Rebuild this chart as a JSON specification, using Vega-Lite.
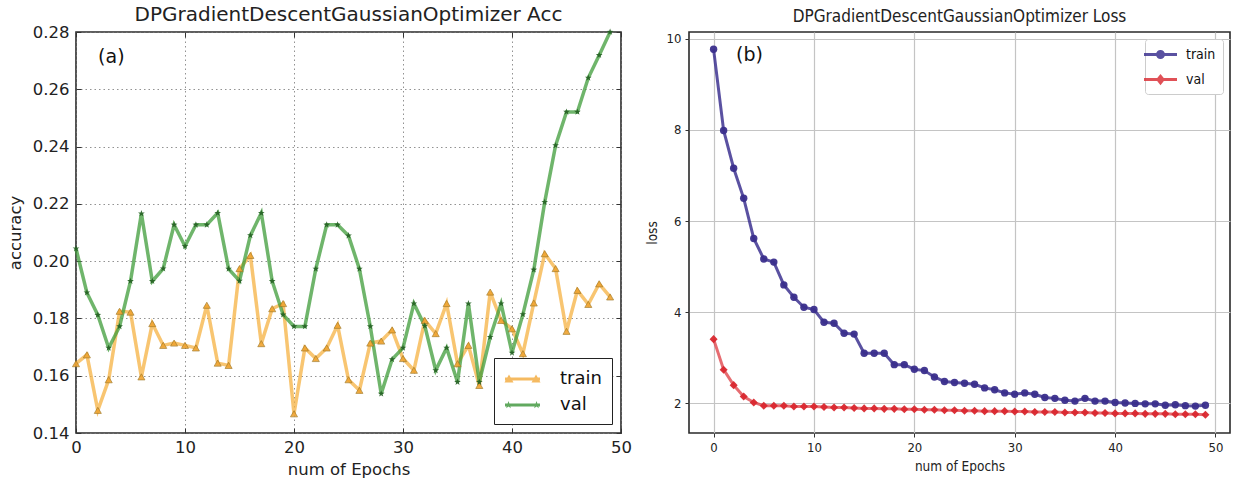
{
  "$schema": "https://vega.github.io/schema/vega-lite/v6.json",
  "padding": {"left": 6, "top": 4, "right": 0, "bottom": 0},
  "background": "white",
  "spacing": 11,
  "resolve": {"scale": {"color": "independent", "shape": "independent"}, "legend": {"color": "independent", "shape": "independent"}},
  "config": {
    "view": {"stroke": "#2a2a2a", "strokeWidth": 1.6},
    "axis": {"domain": false, "labelFlush": false, "labelOverlap": false}
  },
  "datasets": {
    "acc": [
      {"epoch":0,"series":"train","value":0.1642},{"epoch":1,"series":"train","value":0.1673},{"epoch":2,"series":"train","value":0.1479},{"epoch":3,"series":"train","value":0.1586},{"epoch":4,"series":"train","value":0.1825},{"epoch":5,"series":"train","value":0.1822},{"epoch":6,"series":"train","value":0.1596},{"epoch":7,"series":"train","value":0.1782},{"epoch":8,"series":"train","value":0.1706},{"epoch":9,"series":"train","value":0.1714},
      {"epoch":10,"series":"train","value":0.1706},{"epoch":11,"series":"train","value":0.1697},{"epoch":12,"series":"train","value":0.1846},{"epoch":13,"series":"train","value":0.1644},{"epoch":14,"series":"train","value":0.1636},{"epoch":15,"series":"train","value":0.1974},{"epoch":16,"series":"train","value":0.202},{"epoch":17,"series":"train","value":0.1712},{"epoch":18,"series":"train","value":0.1834},{"epoch":19,"series":"train","value":0.1852},
      {"epoch":20,"series":"train","value":0.1467},{"epoch":21,"series":"train","value":0.1697},{"epoch":22,"series":"train","value":0.166},{"epoch":23,"series":"train","value":0.1697},{"epoch":24,"series":"train","value":0.1776},{"epoch":25,"series":"train","value":0.1586},{"epoch":26,"series":"train","value":0.1549},{"epoch":27,"series":"train","value":0.1714},{"epoch":28,"series":"train","value":0.1721},{"epoch":29,"series":"train","value":0.176},
      {"epoch":30,"series":"train","value":0.166},{"epoch":31,"series":"train","value":0.1619},{"epoch":32,"series":"train","value":0.1793},{"epoch":33,"series":"train","value":0.1747},{"epoch":34,"series":"train","value":0.1852},{"epoch":35,"series":"train","value":0.1642},{"epoch":36,"series":"train","value":0.1706},{"epoch":37,"series":"train","value":0.1566},{"epoch":38,"series":"train","value":0.1892},{"epoch":39,"series":"train","value":0.1793},
      {"epoch":40,"series":"train","value":0.1764},{"epoch":41,"series":"train","value":0.1677},{"epoch":42,"series":"train","value":0.1854},{"epoch":43,"series":"train","value":0.2026},{"epoch":44,"series":"train","value":0.1974},{"epoch":45,"series":"train","value":0.1755},{"epoch":46,"series":"train","value":0.1898},{"epoch":47,"series":"train","value":0.1849},{"epoch":48,"series":"train","value":0.1921},{"epoch":49,"series":"train","value":0.1875},
      {"epoch":0,"series":"val","value":0.2044},{"epoch":1,"series":"val","value":0.189},{"epoch":2,"series":"val","value":0.1812},{"epoch":3,"series":"val","value":0.1697},{"epoch":4,"series":"val","value":0.1772},{"epoch":5,"series":"val","value":0.193},{"epoch":6,"series":"val","value":0.2166},{"epoch":7,"series":"val","value":0.193},{"epoch":8,"series":"val","value":0.1974},{"epoch":9,"series":"val","value":0.2127},
      {"epoch":10,"series":"val","value":0.2052},{"epoch":11,"series":"val","value":0.2127},{"epoch":12,"series":"val","value":0.2127},{"epoch":13,"series":"val","value":0.2168},{"epoch":14,"series":"val","value":0.1973},{"epoch":15,"series":"val","value":0.1931},{"epoch":16,"series":"val","value":0.209},{"epoch":17,"series":"val","value":0.2168},{"epoch":18,"series":"val","value":0.193},{"epoch":19,"series":"val","value":0.1813},
      {"epoch":20,"series":"val","value":0.1772},{"epoch":21,"series":"val","value":0.1772},{"epoch":22,"series":"val","value":0.1973},{"epoch":23,"series":"val","value":0.2127},{"epoch":24,"series":"val","value":0.2127},{"epoch":25,"series":"val","value":0.2089},{"epoch":26,"series":"val","value":0.1973},{"epoch":27,"series":"val","value":0.1772},{"epoch":28,"series":"val","value":0.1537},{"epoch":29,"series":"val","value":0.1657},
      {"epoch":30,"series":"val","value":0.1697},{"epoch":31,"series":"val","value":0.1852},{"epoch":32,"series":"val","value":0.1774},{"epoch":33,"series":"val","value":0.1619},{"epoch":34,"series":"val","value":0.1697},{"epoch":35,"series":"val","value":0.1578},{"epoch":36,"series":"val","value":0.1852},{"epoch":37,"series":"val","value":0.1578},{"epoch":38,"series":"val","value":0.1735},{"epoch":39,"series":"val","value":0.1852},
      {"epoch":40,"series":"val","value":0.168},{"epoch":41,"series":"val","value":0.1814},{"epoch":42,"series":"val","value":0.197},{"epoch":43,"series":"val","value":0.2206},{"epoch":44,"series":"val","value":0.2404},{"epoch":45,"series":"val","value":0.2521},{"epoch":46,"series":"val","value":0.2521},{"epoch":47,"series":"val","value":0.264},{"epoch":48,"series":"val","value":0.2719},{"epoch":49,"series":"val","value":0.28}
    ],
    "loss": [
      {"epoch":0,"series":"train","value":9.77},{"epoch":1,"series":"train","value":7.99},{"epoch":2,"series":"train","value":7.16},{"epoch":3,"series":"train","value":6.5},{"epoch":4,"series":"train","value":5.62},{"epoch":5,"series":"train","value":5.17},{"epoch":6,"series":"train","value":5.1},{"epoch":7,"series":"train","value":4.6},{"epoch":8,"series":"train","value":4.33},{"epoch":9,"series":"train","value":4.11},
      {"epoch":10,"series":"train","value":4.06},{"epoch":11,"series":"train","value":3.78},{"epoch":12,"series":"train","value":3.76},{"epoch":13,"series":"train","value":3.54},{"epoch":14,"series":"train","value":3.52},{"epoch":15,"series":"train","value":3.1},{"epoch":16,"series":"train","value":3.1},{"epoch":17,"series":"train","value":3.1},{"epoch":18,"series":"train","value":2.85},{"epoch":19,"series":"train","value":2.85},
      {"epoch":20,"series":"train","value":2.75},{"epoch":21,"series":"train","value":2.72},{"epoch":22,"series":"train","value":2.58},{"epoch":23,"series":"train","value":2.48},{"epoch":24,"series":"train","value":2.46},{"epoch":25,"series":"train","value":2.44},{"epoch":26,"series":"train","value":2.42},{"epoch":27,"series":"train","value":2.34},{"epoch":28,"series":"train","value":2.3},{"epoch":29,"series":"train","value":2.23},
      {"epoch":30,"series":"train","value":2.2},{"epoch":31,"series":"train","value":2.23},{"epoch":32,"series":"train","value":2.2},{"epoch":33,"series":"train","value":2.13},{"epoch":34,"series":"train","value":2.11},{"epoch":35,"series":"train","value":2.07},{"epoch":36,"series":"train","value":2.05},{"epoch":37,"series":"train","value":2.11},{"epoch":38,"series":"train","value":2.05},{"epoch":39,"series":"train","value":2.05},
      {"epoch":40,"series":"train","value":2.02},{"epoch":41,"series":"train","value":2.01},{"epoch":42,"series":"train","value":2.0},{"epoch":43,"series":"train","value":1.99},{"epoch":44,"series":"train","value":1.99},{"epoch":45,"series":"train","value":1.96},{"epoch":46,"series":"train","value":1.97},{"epoch":47,"series":"train","value":1.95},{"epoch":48,"series":"train","value":1.94},{"epoch":49,"series":"train","value":1.96},
      {"epoch":0,"series":"val","value":3.41},{"epoch":1,"series":"val","value":2.74},{"epoch":2,"series":"val","value":2.4},{"epoch":3,"series":"val","value":2.15},{"epoch":4,"series":"val","value":2.02},{"epoch":5,"series":"val","value":1.95},{"epoch":6,"series":"val","value":1.95},{"epoch":7,"series":"val","value":1.95},{"epoch":8,"series":"val","value":1.93},{"epoch":9,"series":"val","value":1.93},
      {"epoch":10,"series":"val","value":1.93},{"epoch":11,"series":"val","value":1.92},{"epoch":12,"series":"val","value":1.91},{"epoch":13,"series":"val","value":1.91},{"epoch":14,"series":"val","value":1.9},{"epoch":15,"series":"val","value":1.89},{"epoch":16,"series":"val","value":1.89},{"epoch":17,"series":"val","value":1.88},{"epoch":18,"series":"val","value":1.88},{"epoch":19,"series":"val","value":1.87},
      {"epoch":20,"series":"val","value":1.87},{"epoch":21,"series":"val","value":1.86},{"epoch":22,"series":"val","value":1.86},{"epoch":23,"series":"val","value":1.85},{"epoch":24,"series":"val","value":1.85},{"epoch":25,"series":"val","value":1.84},{"epoch":26,"series":"val","value":1.84},{"epoch":27,"series":"val","value":1.83},{"epoch":28,"series":"val","value":1.83},{"epoch":29,"series":"val","value":1.83},
      {"epoch":30,"series":"val","value":1.82},{"epoch":31,"series":"val","value":1.82},{"epoch":32,"series":"val","value":1.81},{"epoch":33,"series":"val","value":1.81},{"epoch":34,"series":"val","value":1.81},{"epoch":35,"series":"val","value":1.8},{"epoch":36,"series":"val","value":1.8},{"epoch":37,"series":"val","value":1.8},{"epoch":38,"series":"val","value":1.79},{"epoch":39,"series":"val","value":1.79},
      {"epoch":40,"series":"val","value":1.78},{"epoch":41,"series":"val","value":1.78},{"epoch":42,"series":"val","value":1.78},{"epoch":43,"series":"val","value":1.77},{"epoch":44,"series":"val","value":1.77},{"epoch":45,"series":"val","value":1.77},{"epoch":46,"series":"val","value":1.76},{"epoch":47,"series":"val","value":1.76},{"epoch":48,"series":"val","value":1.76},{"epoch":49,"series":"val","value":1.75}
    ]
  },
  "hconcat": [
    {
      "width": 545,
      "height": 401,
      "title": {"text": "DPGradientDescentGaussianOptimizer Acc", "font": "DejaVu Sans", "fontSize": 20, "fontWeight": "normal", "color": "#222", "offset": -1},
      "data": {"name": "acc"},
      "resolve": {"axis": {"x": "independent", "y": "independent"}},
      "encoding": {
        "x": {"field": "epoch", "type": "quantitative", "scale": {"domain": [0, 50], "nice": false}, "axis": null},
        "y": {"field": "value", "type": "quantitative", "scale": {"domain": [0.14, 0.28], "nice": false, "zero": false}, "axis": null}
      },
      "layer": [
        {
          "transform": [{"filter": "datum.series === 'train'"}],
          "mark": {"type": "line", "strokeWidth": 3.5, "opacity": 0.75, "color": "#f5b142"},
          "encoding": {
            "x": {"field": "epoch", "type": "quantitative", "scale": {"domain": [0, 50], "nice": false},
              "axis": {"title": "num of Epochs", "values": [0, 10, 20, 30, 40, 50], "grid": true, "gridDash": [1.5, 3], "gridColor": "#777", "gridOpacity": 0.8,
                "tickSize": -5, "tickColor": "#333", "labelPadding": 11, "labelFont": "DejaVu Sans", "labelFontSize": 16.5, "labelColor": "#222",
                "titleFont": "DejaVu Sans", "titleFontSize": 16.5, "titleFontWeight": "normal", "titleColor": "#222", "titlePadding": 6}},
            "y": {"field": "value", "type": "quantitative", "scale": {"domain": [0.14, 0.28], "nice": false, "zero": false},
              "axis": {"title": "accuracy", "values": [0.14, 0.16, 0.18, 0.2, 0.22, 0.24, 0.26, 0.28], "format": ".2f", "grid": true, "gridDash": [1.5, 3], "gridColor": "#777", "gridOpacity": 0.8,
                "tickSize": -5, "tickColor": "#333", "labelPadding": 12, "labelFont": "DejaVu Sans", "labelFontSize": 16.5, "labelColor": "#222",
                "titleFont": "DejaVu Sans", "titleFontSize": 16.5, "titleFontWeight": "normal", "titleColor": "#222", "titlePadding": 9}}
          }
        },
        {
          "transform": [{"filter": "datum.series === 'val'"}],
          "mark": {"type": "line", "strokeWidth": 3.5, "opacity": 0.75, "color": "#3f9c3a"}
        },
        {
          "transform": [{"filter": "datum.series === 'train'"}],
          "mark": {"type": "point", "shape": "triangle-up", "filled": true, "size": 50, "color": "#f0a431", "stroke": "#9c7420", "strokeWidth": 0.7, "opacity": 0.9}
        },
        {
          "transform": [{"filter": "datum.series === 'val'"}],
          "mark": {"type": "point", "shape": "M0,-1L0.235,-0.324L0.951,-0.309L0.38,0.124L0.588,0.809L0,0.4L-0.588,0.809L-0.38,0.124L-0.951,-0.309L-0.235,-0.324Z", "filled": true, "size": 50, "color": "#245f22", "opacity": 0.9}
        },
        {
          "transform": [{"filter": "false"}],
          "mark": {"type": "point", "filled": true, "opacity": 0.8},
          "encoding": {
            "x": {"field": "epoch", "type": "quantitative", "scale": {"domain": [0, 50], "nice": false},
              "axis": {"orient": "top", "values": [0, 10, 20, 30, 40, 50], "labels": false, "title": null, "grid": false, "tickSize": -5, "tickColor": "#333"}},
            "y": {"field": "value", "type": "quantitative", "scale": {"domain": [0.14, 0.28], "nice": false, "zero": false},
              "axis": {"orient": "right", "values": [0.14, 0.16, 0.18, 0.2, 0.22, 0.24, 0.26, 0.28], "labels": false, "title": null, "grid": false, "tickSize": -5, "tickColor": "#333"}},
            "color": {"field": "series", "type": "nominal", "scale": {"domain": ["train", "val"], "range": ["#f2a93a", "#3a9437"]},
              "legend": {"title": null, "orient": "bottom-right", "offset": 9, "strokeColor": "#222", "fillColor": "#ffffff", "padding": 10, "cornerRadius": 0,
                "labelFont": "DejaVu Sans", "labelFontSize": 18, "labelColor": "#111", "symbolSize": 400, "symbolOffset": 7.5, "rowPadding": 6, "labelOffset": 26.5}},
            "shape": {"field": "series", "type": "nominal",
              "scale": {"domain": ["train", "val"], "range": [
                "M-1.75,-0.16H1.75V0.16H-1.75ZM-1.35,-0.45L-0.9,0.35L-1.8,0.35ZM1.35,-0.45L1.8,0.35L0.9,0.35Z",
                "M-1.75,-0.16H1.75V0.16H-1.75ZM-1.4,-0.4L-1.306,-0.13L-1.02,-0.124L-1.248,0.05L-1.165,0.324L-1.4,0.16L-1.635,0.324L-1.552,0.05L-1.78,-0.124L-1.494,-0.13ZM1.4,-0.4L1.494,-0.13L1.78,-0.124L1.552,0.05L1.635,0.324L1.4,0.16L1.165,0.324L1.248,0.05L1.02,-0.124L1.306,-0.13Z"
              ]},
              "legend": {"title": null, "orient": "bottom-right", "offset": 9, "strokeColor": "#222", "fillColor": "#ffffff", "padding": 10, "cornerRadius": 0,
                "labelFont": "DejaVu Sans", "labelFontSize": 18, "labelColor": "#111", "symbolSize": 400, "symbolOffset": 7.5, "rowPadding": 6, "labelOffset": 26.5}}
          }
        },
        {
          "transform": [{"filter": "datum.epoch === 0 && datum.series === 'train'"}],
          "mark": {"type": "text", "text": "(a)", "font": "DejaVu Sans", "fontSize": 19, "color": "#111", "align": "center", "baseline": "middle"},
          "encoding": {"x": {"datum": 3.24, "axis": null}, "y": {"datum": 0.2712, "axis": null}}
        }
      ]
    },
    {
      "width": 541,
      "height": 401,
      "title": {"text": "DPGradientDescentGaussianOptimizer Loss", "font": "DejaVu Sans Condensed, DejaVu Sans", "fontSize": 17, "fontWeight": "normal", "color": "#222", "offset": 6},
      "data": {"name": "loss"},
      "encoding": {
        "x": {"field": "epoch", "type": "quantitative", "scale": {"domain": [-2.45, 51.45], "nice": false},
          "axis": {"title": "num of Epochs", "values": [0, 10, 20, 30, 40, 50], "grid": true, "gridColor": "#c4c4c4", "gridWidth": 1.2,
            "tickSize": 4, "tickColor": "#333", "labelPadding": 4, "labelFont": "DejaVu Sans Condensed, DejaVu Sans", "labelFontSize": 13, "labelColor": "#222",
            "titleFont": "DejaVu Sans Condensed, DejaVu Sans", "titleFontSize": 13.5, "titleFontWeight": "normal", "titleColor": "#222", "titlePadding": 5}},
        "y": {"field": "value", "type": "quantitative", "scale": {"domain": [1.35, 10.15], "nice": false, "zero": false},
          "axis": {"title": "loss", "values": [2, 4, 6, 8, 10], "grid": true, "gridColor": "#c4c4c4", "gridWidth": 1.2,
            "tickSize": 4, "tickColor": "#333", "labelPadding": 4, "labelFont": "DejaVu Sans Condensed, DejaVu Sans", "labelFontSize": 13, "labelColor": "#222",
            "titleFont": "DejaVu Sans Condensed, DejaVu Sans", "titleFontSize": 13.5, "titleFontWeight": "normal", "titleColor": "#222", "titlePadding": 7}}
      },
      "layer": [
        {
          "transform": [{"filter": "datum.series === 'train'"}],
          "mark": {"type": "line", "strokeWidth": 3, "opacity": 0.85, "color": "#3d3391"}
        },
        {
          "transform": [{"filter": "datum.series === 'val'"}],
          "mark": {"type": "line", "strokeWidth": 3, "opacity": 0.8, "color": "#e0474e"}
        },
        {
          "transform": [{"filter": "datum.series === 'train'"}],
          "mark": {"type": "point", "shape": "circle", "filled": true, "size": 55, "color": "#3a2e8c", "opacity": 0.95}
        },
        {
          "transform": [{"filter": "datum.series === 'val'"}],
          "mark": {"type": "point", "shape": "diamond", "filled": true, "size": 65, "color": "#d9272e", "opacity": 0.95}
        },
        {
          "transform": [{"filter": "false"}],
          "mark": {"type": "point", "filled": true, "opacity": 0.85},
          "encoding": {
            "color": {"field": "series", "type": "nominal", "scale": {"domain": ["train", "val"], "range": ["#3d3391", "#db3239"]},
              "legend": {"title": null, "orient": "top-right", "offset": 7, "strokeColor": "#cccccc", "fillColor": "#ffffff", "padding": 7, "cornerRadius": 3,
                "labelFont": "DejaVu Sans Condensed, DejaVu Sans", "labelFontSize": 14, "labelColor": "#111", "symbolSize": 225, "rowPadding": 9, "labelOffset": 17}},
            "shape": {"field": "series", "type": "nominal",
              "scale": {"domain": ["train", "val"], "range": [
                "M-2.2,-0.2H2.2V0.2H-2.2ZM0.6,0A0.6,0.6 0 1,1 -0.6,0A0.6,0.6 0 1,1 0.6,0Z",
                "M-2.2,-0.2H2.2V0.2H-2.2ZM0,-0.75L0.6,0L0,0.75L-0.6,0Z"
              ]},
              "legend": {"title": null, "orient": "top-right", "offset": 7, "strokeColor": "#cccccc", "fillColor": "#ffffff", "padding": 7, "cornerRadius": 3,
                "labelFont": "DejaVu Sans Condensed, DejaVu Sans", "labelFontSize": 14, "labelColor": "#111", "symbolSize": 225, "rowPadding": 9, "labelOffset": 17}}
          }
        },
        {
          "transform": [{"filter": "datum.epoch === 0 && datum.series === 'train'"}],
          "mark": {"type": "text", "text": "(b)", "font": "DejaVu Sans", "fontSize": 19, "color": "#111", "align": "center", "baseline": "middle"},
          "encoding": {"x": {"datum": 3.58}, "y": {"datum": 9.65}}
        }
      ]
    }
  ]
}
